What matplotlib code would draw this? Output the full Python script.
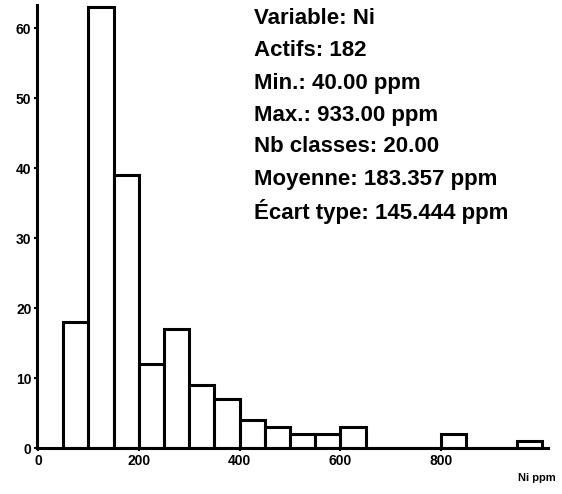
import matplotlib
matplotlib.use("Agg")
import matplotlib.pyplot as plt

# Histogram data (Ni, ppm) - bins of 50 ppm
bin_edges = [50, 100, 150, 200, 250, 300, 350, 400, 450, 500, 550, 600, 650,
             700, 750, 800, 850, 900, 950, 1000]
counts = [18, 63, 39, 12, 17, 9, 7, 4, 3, 2, 2, 3, 0, 0, 0, 2, 0, 0, 1]

x_ticks = [0, 200, 400, 600, 800]
y_ticks = [0, 10, 20, 30, 40, 50, 60]

stats_lines = [
    "Variable: Ni",
    "Actifs: 182",
    "Min.: 40.00 ppm",
    "Max.: 933.00 ppm",
    "Nb classes: 20.00",
    "Moyenne: 183.357 ppm",
    "Écart type: 145.444 ppm",
]
x_label = "Ni ppm"

plt.rcParams['font.family'] = ['Liberation Sans', 'DejaVu Sans']

fig = plt.figure(figsize=(5.62, 4.94), dpi=100)
ax = fig.add_axes([37 / 562, 46 / 494, (548 - 37) / 562, (448 - 5) / 494])

lefts = bin_edges[:-1]
widths = [b - a for a, b in zip(bin_edges[:-1], bin_edges[1:])]
ax.bar(lefts, counts, width=widths, align='edge', facecolor='white',
       edgecolor='black', linewidth=2.2)

ax.set_xlim(-2, 1012)
ax.set_ylim(0, 63.3)
ax.set_xticks(x_ticks)
ax.set_yticks(y_ticks)
ax.set_xticklabels([str(v) for v in x_ticks], fontweight='bold', fontsize=10)
ax.set_yticklabels([str(v) for v in y_ticks], fontweight='bold', fontsize=10)
ax.tick_params(axis='both', length=2, width=1.5, pad=2, direction='out')

for s in ['top', 'right']:
    ax.spines[s].set_visible(False)
for s in ['left', 'bottom']:
    ax.spines[s].set_linewidth(2.2)

y0 = 19
dy = 32
for i, line in enumerate(stats_lines):
    fig.text(254 / 562, 1 - (y0 + i * dy) / 494, line, fontsize=16,
             fontweight='bold', ha='left', va='center')

fig.text(556 / 562, 1 - 478 / 494, x_label, fontsize=8, fontweight='bold',
         ha='right', va='center')

fig.savefig("out.png", dpi=100)
